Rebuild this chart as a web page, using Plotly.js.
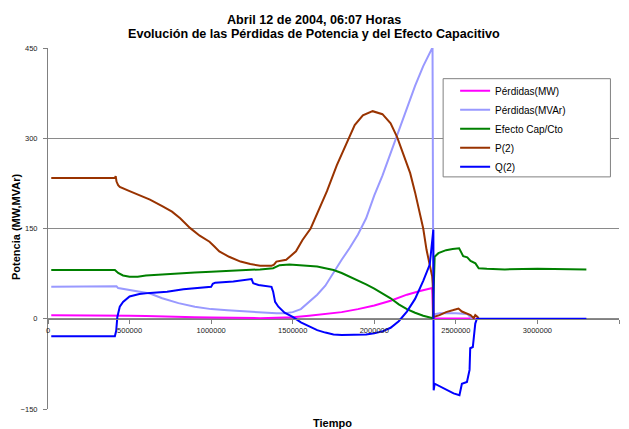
<!DOCTYPE html>
<html>
<head>
<meta charset="utf-8">
<script src="https://cdn.plot.ly/plotly-3.0.1.min.js"></script>
<style>html,body{margin:0;padding:0;background:#fff;}#chart{width:629px;height:429px;}</style>
</head>
<body>
<div id="chart"></div>
<script>
// ---- Data ----
const titleLines = ['Abril 12 de 2004, 06:07 Horas', 'Evolución de las Pérdidas de Potencia y del Efecto Capacitivo'];
const seriesNames = ['Pérdidas(MW)', 'Pérdidas(MVAr)', 'Efecto Cap/Cto', 'P(2)', 'Q(2)'];

const perdMW_x = [20000, 410000, 420000, 500000, 600000, 700000, 800000, 900000, 1000000, 1100000, 1200000, 1300000, 1400000, 1500000, 1600000, 1700000, 1800000, 1900000, 2000000, 2100000, 2200000, 2280000, 2355000, 2360000, 2400000, 2500000, 2620000];
const perdMW_y = [6, 6, 5.5, 5, 4.5, 3.5, 3, 2.5, 2, 1.5, 1, 1, 1.5, 2.5, 5, 7.5, 11, 16, 22, 30, 40, 46, 51, 0.5, 0.5, 0.5, 0.5];

const perdMVAr_x = [20000, 410000, 420000, 430000, 500000, 560000, 625000, 700000, 800000, 900000, 1000000, 1100000, 1200000, 1300000, 1400000, 1450000, 1500000, 1550000, 1600000, 1650000, 1700000, 1750000, 1800000, 1850000, 1900000, 1950000, 2000000, 2050000, 2100000, 2150000, 2200000, 2250000, 2300000, 2357000, 2362000, 2400000, 2500000, 2570000, 2600000];
const perdMVAr_y = [53, 53, 54, 51, 48, 45, 42, 34, 26, 20, 16, 14, 12, 10, 9, 9, 11, 16, 28, 40, 55, 77, 98, 118, 140, 167, 205, 238, 275, 312, 350, 387, 420, 451, 7, 9, 9, 8, 0];

const efecto_x = [20000, 410000, 430000, 460000, 500000, 550000, 600000, 700000, 800000, 900000, 1000000, 1100000, 1200000, 1300000, 1380000, 1400000, 1420000, 1480000, 1550000, 1600000, 1650000, 1700000, 1750000, 1800000, 1850000, 1900000, 1950000, 2000000, 2050000, 2100000, 2150000, 2200000, 2250000, 2300000, 2359000, 2370000, 2393000, 2440000, 2480000, 2520000, 2530000, 2545000, 2570000, 2590000, 2620000, 2640000, 2690000, 2800000, 3000000, 3300000];
const efecto_y = [81, 81, 76, 72, 70, 70, 72, 74, 76, 77, 78, 79, 80, 82, 84, 87, 89, 90, 89, 88, 87, 84, 81, 76, 70, 63, 57, 50, 42, 34, 24, 16, 10, 5, 1, 103, 109, 114, 116, 117, 112, 104, 102, 96, 92, 84, 83, 82, 83, 82];

const p2_x = [20000, 410000, 415000, 420000, 430000, 440000, 500000, 560000, 625000, 700000, 760000, 810000, 870000, 930000, 990000, 1020000, 1050000, 1110000, 1180000, 1240000, 1300000, 1370000, 1385000, 1400000, 1460000, 1520000, 1560000, 1610000, 1660000, 1710000, 1770000, 1830000, 1880000, 1930000, 1990000, 2050000, 2100000, 2140000, 2180000, 2220000, 2250000, 2280000, 2300000, 2320000, 2340000, 2355000, 2358000, 2364000, 2400000, 2440000, 2480000, 2516000, 2537000, 2568000, 2590000, 2609000, 2619000, 2633000, 2640000];
const p2_y = [234, 234, 237, 228, 222, 219, 212, 205, 198, 187, 178, 167, 151, 138, 128, 120, 112, 103, 95, 91, 88, 88, 90, 95, 98, 112, 131, 150, 180, 212, 255, 292, 322, 338, 345, 340, 325, 302, 272, 242, 210, 175, 150, 115, 90, 70, 58, 3, 6, 11, 14, 17, 12, 9, 6, 1, 6, 3, 0];

const q2_x = [20000, 410000, 418000, 425000, 440000, 460000, 500000, 560000, 625000, 730000, 830000, 930000, 1000000, 1010000, 1025000, 1136000, 1248000, 1258000, 1290000, 1370000, 1380000, 1392000, 1412000, 1450000, 1500000, 1550000, 1600000, 1650000, 1700000, 1750000, 1800000, 1850000, 1900000, 1950000, 2000000, 2050000, 2100000, 2150000, 2200000, 2250000, 2300000, 2340000, 2362000, 2364000, 2370000, 2400000, 2445000, 2486000, 2522000, 2537000, 2568000, 2584000, 2588000, 2604000, 2619000, 2629000, 3300000];
const q2_y = [-29, -29, -20, 3, 20, 28, 37, 41, 43, 45, 49, 52, 53, 58, 60, 62, 66, 59, 56, 53, 45, 28, 20, 10, 3, -6, -13, -19, -23, -26, -27, -27, -27, -26, -24, -21, -15, -4, 12, 33, 63, 90, 148, -119, -108, -112, -119, -124, -127, -108, -105, -85, -49, -47, -8, 0, 0];

const xTicks = [0, 500000, 1000000, 1500000, 2000000, 2500000, 3000000, 3500000];
const yTicks = [-150, 0, 150, 300, 450];

// ---- Chart ----
const FONT = '"Liberation Sans", Arial, sans-serif';
const GRID = '#8a8a8a';
const colors = ['#FF00FF', '#9999FF', '#008000', '#993300', '#0000FF'];
const xs = [perdMW_x, perdMVAr_x, efecto_x, p2_x, q2_x];
const ys = [perdMW_y, perdMVAr_y, efecto_y, p2_y, q2_y];

const traces = seriesNames.map((n, i) => ({
  type: 'scatter', mode: 'lines', name: n,
  x: xs[i], y: ys[i],
  line: {color: colors[i], width: 2}
}));

const xRange = [0, xTicks[xTicks.length - 1]];
const yRange = [yTicks[0], yTicks[yTicks.length - 1]];
const xAxisPos = (0 - yRange[0]) / (yRange[1] - yRange[0]);

// bare overlay axes: only their lines are shown, giving the gridlines at the top (450) and bottom (-150) edges
const edgeAxis = side => ({
  overlaying: 'x', anchor: 'y', side: side, range: xRange,
  showline: true, linecolor: GRID, linewidth: 1,
  showticklabels: false, ticks: '', showgrid: false, zeroline: false
});

const layout = {
  width: 629, height: 429,
  margin: {l: 48, r: 10, t: 48, b: 20},
  paper_bgcolor: '#fff', plot_bgcolor: '#fff',
  font: {family: FONT, color: '#000'},
  xaxis: {
    range: xRange, tickvals: xTicks, tickformat: 'd',
    anchor: 'free', position: xAxisPos,
    showline: true, linecolor: '#808080', linewidth: 1,
    ticks: 'outside', ticklen: 4, tickcolor: '#808080',
    showgrid: false, zeroline: false,
    tickfont: {family: FONT, size: 7.5, color: '#222'}
  },
  xaxis2: edgeAxis('top'),
  xaxis3: edgeAxis('bottom'),
  yaxis: {
    range: yRange, tickvals: yTicks,
    showline: true, linecolor: '#808080', linewidth: 1,
    ticks: 'outside', ticklen: 4, tickcolor: '#808080',
    showgrid: true, gridcolor: GRID, gridwidth: 1, zeroline: false,
    ticklabelstandoff: 4,
    tickfont: {family: FONT, size: 7.5, color: '#222'}
  },
  showlegend: true,
  legend: {
    x: 0.713, xanchor: 'left', y: 0.922, yanchor: 'top',
    bgcolor: 'rgba(0,0,0,0)', borderwidth: 0,
    font: {family: FONT, size: 10, color: '#000'},
    itemwidth: 30
  },
  shapes: [{
    type: 'rect', xref: 'paper', yref: 'paper', layer: 'above',
    x0: 0.692, x1: 0.985, y0: 0.643, y1: 0.915,
    line: {color: '#808080', width: 1}, fillcolor: '#ffffff'
  }],
  annotations: [
    {text: '<b>' + titleLines[0] + '</b>', xref: 'paper', yref: 'paper', x: 0.466, y: 1.0785,
     showarrow: false, xanchor: 'center', yanchor: 'middle',
     font: {family: FONT, size: 12.6, color: '#000'}},
    {text: '<b>' + titleLines[1] + '</b>', xref: 'paper', yref: 'paper', x: 0.466, y: 1.0394,
     showarrow: false, xanchor: 'center', yanchor: 'middle',
     font: {family: FONT, size: 12.6, color: '#000'}},
    {text: '<b>Potencia (MW,MVAr)</b>', xref: 'paper', yref: 'paper', x: -0.055, y: 0.503,
     textangle: -90, showarrow: false, xanchor: 'center', yanchor: 'middle',
     font: {family: FONT, size: 11, color: '#000'}},
    {text: '<b>Tiempo</b>', xref: 'paper', yref: 'paper', x: 0.498, y: -0.040,
     showarrow: false, xanchor: 'center', yanchor: 'middle',
     font: {family: FONT, size: 11, color: '#000'}}
  ]
};

Plotly.newPlot('chart', traces, layout, {displayModeBar: false, staticPlot: true});
</script>
</body>
</html>
